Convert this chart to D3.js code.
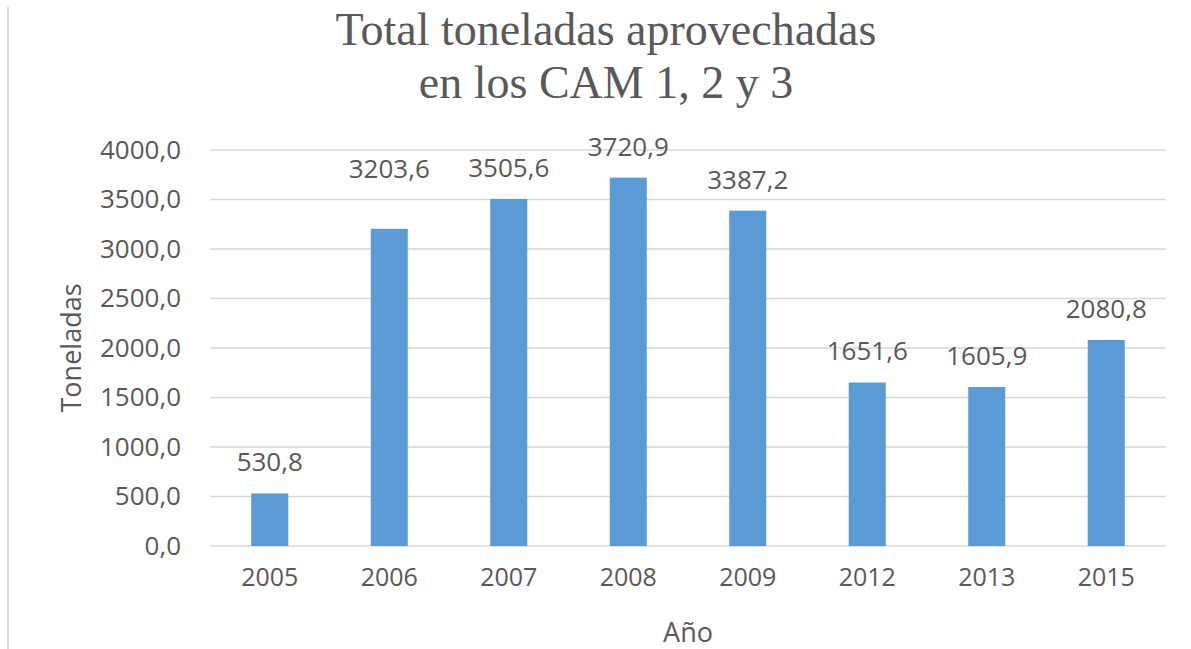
<!DOCTYPE html>
<html>
<head>
<meta charset="utf-8">
<script src="https://cdn.jsdelivr.net/npm/d3@7"></script>
<style>
  body { margin: 0; background: #fff; }
  text { fill: #595959; }
</style>
</head>
<body>
<div id="chartContainer"></div>
<script>
var years = ["2005", "2006", "2007", "2008", "2009", "2012", "2013", "2015"];
var toneladas = [530.8, 3203.6, 3505.6, 3720.9, 3387.2, 1651.6, 1605.9, 2080.8];
var yTicks = [0, 500, 1000, 1500, 2000, 2500, 3000, 3500, 4000];
var titleLines = ["Total toneladas aprovechadas", "en los CAM 1, 2 y 3"];

var width = 1191, height = 649;
var margin = { top: 150, right: 25, bottom: 103, left: 210 };
var plotW = width - margin.left - margin.right;
var plotH = height - margin.top - margin.bottom;

var barColor = '#5b9bd5';
var gridStyle = 'stroke: #d9d9d9; stroke-width: 1.5;';
var labelFont = "'Open Sans', sans-serif";

// the 2006 label sits higher in the original
var labelNudge = { "2006": -29 };

// comma decimals
function fmt(v) { return v.toFixed(1).replace('.', ','); }

var svg = d3.select('#chartContainer')
    .append('svg')
    .attr('width', width)
    .attr('height', height);

// thin frame edge on the left
svg.append('line')
    .attr('x1', 8).attr('x2', 8)
    .attr('y1', 7).attr('y2', height)
    .attr('style', 'stroke: #d9d9d9; stroke-width: 2;');

svg.selectAll('.title')
    .data(titleLines)
    .enter().append('text')
    .attr('class', 'title')
    .attr('x', 606)
    .attr('y', function (d, i) { return 45 + i * 53; })
    .attr('text-anchor', 'middle')
    .style('font-family', "'Liberation Serif', 'Times New Roman', serif")
    .style('font-size', '46px')
    .text(function (d) { return d; });

const x = d3.scaleBand()
    .domain(years)
    .range([0, plotW])
    .paddingInner(0.69)
    .paddingOuter(0.345);

const y = d3.scaleLinear()
    .domain([0, 4000])
    .range([plotH, 0]);

let g = svg.append('g')
    .attr('transform', `translate(${margin.left}, ${margin.top})`);

// gridlines
g.selectAll('.grid')
    .data(yTicks)
    .enter().append('line')
    .attr('x1', 0)
    .attr('x2', plotW)
    .attr('y1', function (d) { return y(d); })
    .attr('y2', function (d) { return y(d); })
    .attr('style', gridStyle);

// y axis labels
let yAxis = g.append('g')
    .call(d3.axisLeft(y).tickValues(yTicks).tickSize(0).tickPadding(29).tickFormat(fmt));
yAxis.select('.domain').remove();
yAxis.selectAll('text')
    .style('font-family', labelFont)
    .style('font-size', '26px')
    .attr('fill', '#595959');

// x axis labels
let xAxis = g.append('g')
    .attr('transform', `translate(0, ${plotH})`)
    .call(d3.axisBottom(x).tickSize(0).tickPadding(22));
xAxis.select('.domain').remove();
xAxis.selectAll('text')
    .style('font-family', labelFont)
    .style('font-size', '25px')
    .attr('fill', '#595959');

// bars
g.selectAll('.bar')
    .data(years)
    .enter().append('rect')
    .attr('class', 'bar')
    .attr('x', function (d) { return x(d); })
    .attr('width', x.bandwidth())
    .attr('y', function (d, i) { return y(toneladas[i]); })
    .attr('height', function (d, i) { return plotH - y(toneladas[i]); })
    .attr('fill', barColor);

// value labels
g.selectAll('.val')
    .data(years)
    .enter().append('text')
    .attr('class', 'val')
    .attr('x', function (d) { return x(d) + x.bandwidth() / 2; })
    .attr('y', function (d, i) { return y(toneladas[i]) - 22 + (labelNudge[d] || 0); })
    .attr('text-anchor', 'middle')
    .style('font-family', labelFont)
    .style('font-size', '26px')
    .text(function (d, i) { return fmt(toneladas[i]); });

// axis titles
svg.append('text')
    .attr('transform', `translate(81, ${margin.top + plotH / 2}) rotate(-90)`)
    .attr('text-anchor', 'middle')
    .style('font-family', labelFont)
    .style('font-size', '27px')
    .text('Toneladas');

svg.append('text')
    .attr('x', margin.left + plotW / 2)
    .attr('y', 642)
    .attr('text-anchor', 'middle')
    .style('font-family', labelFont)
    .style('font-size', '27px')
    .text('Año');
</script>
</body>
</html>
